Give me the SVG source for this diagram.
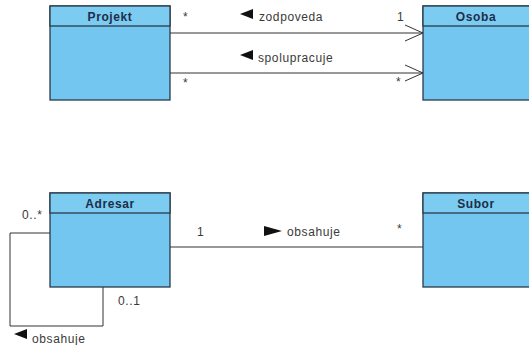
<svg xmlns="http://www.w3.org/2000/svg" width="529" height="345" viewBox="0 0 529 345">
<style>
.box{fill:#72c6ef;stroke:#2a3a4a;stroke-width:1.3}
.hdr{fill:#7ccbf1;stroke:#2a3a4a;stroke-width:1.3}
.title{font-family:"Liberation Sans",Arial,sans-serif;font-size:12px;font-weight:bold;fill:#1c2e4a;text-anchor:middle;letter-spacing:0.6px}
.lbl{font-family:"Liberation Sans",Arial,sans-serif;font-size:12px;fill:#3a3a3a;letter-spacing:0.6px}
.ln{fill:none;stroke:#333;stroke-width:1}
.tri{fill:#111}
</style>
<rect width="529" height="345" fill="#fff"/>
<g id="Projekt">
<rect class="box" x="50" y="6" width="120" height="94"/>
<rect class="hdr" x="50" y="6" width="120" height="20"/>
<text class="title" x="110" y="21">Projekt</text>
</g>
<g id="Osoba">
<rect class="box" x="423" y="6" width="112" height="94"/>
<rect class="hdr" x="423" y="6" width="112" height="20"/>
<text class="title" x="476" y="21">Osoba</text>
</g>
<g id="Adresar">
<rect class="box" x="50" y="193" width="120" height="94"/>
<rect class="hdr" x="50" y="193" width="120" height="20"/>
<text class="title" x="110" y="208">Adresar</text>
</g>
<g id="Subor">
<rect class="box" x="423" y="193" width="112" height="94"/>
<rect class="hdr" x="423" y="193" width="112" height="20"/>
<text class="title" x="476" y="208">Subor</text>
</g>
<g id="connectors">
<path class="ln" d="M170 33H423M405 25L423 33L405 41"/>
<path class="tri" d="M240 14L253 9V19Z"/>
<text class="lbl" x="259" y="21">zodpoveda</text>
<text class="lbl" x="183" y="21">*</text>
<text class="lbl" x="397" y="21">1</text>
<path class="ln" d="M170 73H423M405 65L423 73L405 81"/>
<path class="tri" d="M240 55L253 50V60Z"/>
<text class="lbl" x="258" y="62">spolupracuje</text>
<text class="lbl" x="183" y="87">*</text>
<text class="lbl" x="396" y="86">*</text>
<path class="ln" d="M170 247H423"/>
<path class="tri" d="M264 226L282 231L264 236Z"/>
<text class="lbl" x="287" y="236">obsahuje</text>
<text class="lbl" x="197" y="236">1</text>
<text class="lbl" x="397" y="233">*</text>
<path class="ln" d="M50 233H10V326H103V287"/>
<text class="lbl" x="22" y="219">0..*</text>
<text class="lbl" x="118" y="305">0..1</text>
<path class="tri" d="M14 334L27 329V339Z"/>
<text class="lbl" x="32" y="343">obsahuje</text>
</g>
</svg>
